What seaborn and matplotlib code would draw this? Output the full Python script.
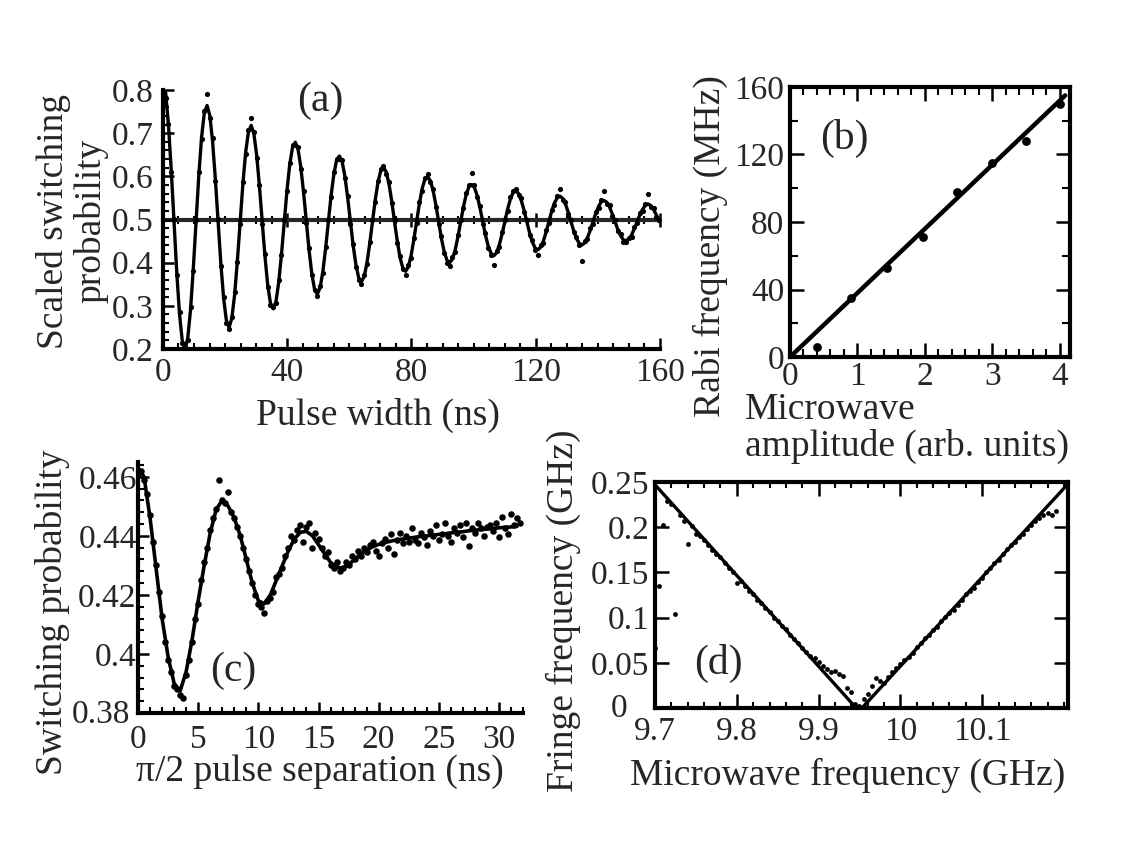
import numpy as np
import matplotlib
matplotlib.use("Agg")
import matplotlib.pyplot as plt
from matplotlib.ticker import MultipleLocator
from matplotlib.transforms import ScaledTranslation
import seaborn as sns

# (a) Rabi oscillations: switching probability vs pulse width
rabi_step = 0.8875  # ns between samples
rabi_fit = [
    .820, .792, .719, .615, .495, .378, .281, .219, .199, .225, .291, .386, .495, .602, .690, .747,
    .764, .741, .681, .594, .495, .398, .318, .266, .250, .272, .326, .405, .495, .583, .656, .703,
    .718, .698, .649, .577, .495, .415, .348, .306, .293, .310, .355, .420, .495, .568, .628, .667,
    .679, .663, .622, .563, .495, .429, .374, .338, .327, .342, .379, .433, .495, .556, .605, .638,
    .647, .634, .600, .551, .495, .440, .395, .365, .356, .368, .399, .444, .495, .545, .586, .613,
    .621, .610, .582, .542, .495, .450, .412, .388, .380, .390, .416, .453, .495, .536, .571, .593,
    .599, .590, .567, .534, .495, .457, .426, .406, .400, .408, .429, .460, .495, .529, .558, .576,
    .581, .574, .555, .527, .495, .464, .438, .422, .416, .423, .441, .466, .495, .523, .547, .562,
    .567, .560, .544, .521, .495, .469, .448, .434, .430, .436, .450, .471, .495, .519, .538, .550,
    .554, .549, .536, .517, .495, .474, .456, .445, .441, .446, .458, .475, .495, .514, .530, .541,
    .544, .540, .529, .513, .495, .477, .463, .453, .451, .454, .464, .479, .495, .511, .524, .533,
    .536, .532, .523, .510, .495,
]
rabi_data = [
    .790, .781, .722, .611, .502, .372, .286, .214, .205, .221, .297, .381, .500, .609, .686, .752,
    .790, .735, .688, .590, .501, .392, .321, .260, .247, .275, .331, .401, .490, .588, .651, .708,
    .735, .702, .643, .581, .490, .419, .344, .303, .298, .306, .360, .417, .498, .565, .632, .672,
    .672, .667, .618, .566, .491, .433, .371, .336, .322, .345, .375, .436, .499, .552, .609, .640,
    .641, .638, .596, .555, .490, .444, .391, .361, .350, .372, .396, .447, .500, .541, .590, .616,
    .624, .605, .586, .538, .499, .446, .416, .385, .372, .394, .411, .457, .491, .540, .567, .597,
    .605, .586, .571, .530, .490, .461, .422, .400, .392, .412, .425, .465, .499, .526, .562, .580,
    .607, .580, .551, .531, .489, .468, .434, .418, .395, .427, .437, .471, .499, .519, .551, .566,
    .571, .556, .549, .517, .500, .464, .452, .429, .418, .440, .446, .476, .491, .523, .534, .554,
    .570, .545, .540, .512, .499, .470, .460, .441, .405, .450, .454, .480, .490, .518, .526, .545,
    .567, .536, .533, .509, .500, .473, .467, .448, .447, .458, .460, .483, .491, .515, .520, .537,
    .558, .528, .527, .506, .499,
]
rabi_xticks = [0, 40, 80, 120, 160]
rabi_xticklabels = ['0', '40', '80', '120', '160']
rabi_yticks = [0.2, 0.3, 0.4, 0.5, 0.6, 0.7, 0.8]
rabi_yticklabels = ['0.2', '0.3', '0.4', '0.5', '0.6', '0.7', '0.8']

# (b) Rabi frequency vs microwave amplitude
amp = [0.40, 0.91, 1.44, 1.97, 2.47, 2.99, 3.50, 4.00]
rabi_freq = [6, 35, 53, 71, 98, 115, 128, 150]
amp_fit = [0.0, 4.08]
rabi_freq_fit = [0.0, 155.0]
amp_xticks = [0, 1, 2, 3, 4]
amp_xticklabels = ['0', '1', '2', '3', '4']
freq_yticks = [0, 40, 80, 120, 160]
freq_yticklabels = ['0', '40', '80', '120', '160']

# (c) Ramsey fringes
ramsey_step = 0.25
ramsey_data = [
    .461, .462, .459, .454, .447, .438, .430, .421,
    .413, .404, .398, .394, .389, .388, .386, .385,
    .393, .398, .404, .412, .417, .425, .431, .436,
    .442, .446, .449, .459, .452, .451, .455, .448,
    .446, .443, .440, .436, .432, .428, .424, .420,
    .417, .416, .414, .418, .419, .421, .426, .427,
    .429, .433, .436, .440, .4385, .442, .4435, .438,
    .443, .4445, .436, .441, .439, .436, .433, .4345,
    .430, .429, .431, .428, .429, .431, .430, .433,
    .432, .435, .433, .436, .4345, .437, .438, .435,
    .433, .4375, .439, .436, .4405, .434, .4385, .441,
    .4375, .440, .438, .4425, .4385, .4375, .441, .4395,
    .437, .4415, .440, .4435, .4385, .4405, .4445, .440,
    .438, .4425, .441, .4435, .4395, .4445, .4365, .4425,
    .441, .4445, .4425, .440, .443, .4435, .4415, .4445,
    .4395, .4465, .4425, .4405, .4475, .4435, .446, .4445,
]
ramsey_fit_step = 0.5
ramsey_fit = [
    .463, .460, .446, .429, .412, .399, .390, .3875,
    .394, .405, .418, .430, .441, .449, .452, .450,
    .446, .440, .432, .424, .418, .417, .420, .425,
    .430, .435, .439, .4412, .4415, .440, .437, .434,
    .431, .4295, .429, .4302, .432, .4338, .4352, .4363,
    .4371, .4377, .4382, .4386, .4389, .4392, .4395, .4398,
    .4400, .4402, .4405, .4407, .4410, .4412, .4414, .4417,
    .4419, .4421, .4423, .4425, .4427, .4429, .4430, .4432,
]
sep_xticks = [0, 5, 10, 15, 20, 25, 30]
sep_xticklabels = ['0', '5', '10', '15', '20', '25', '30']
sw_yticks = [0.38, 0.40, 0.42, 0.44, 0.46]
sw_yticklabels = ['0.38', '0.4', '0.42', '0.44', '0.46']

# (d) fringe frequency vs microwave frequency
left_fringe = [
    .066, .135, .203, .229, .226, .104, .214, .207, .181, .201,
    .193, .190, .186, .180, .175, .170, .167, .160, .155, .151,
    .138, .141, .135, .130, .126, .120, .116, .111, .106, .100,
    .096, .091, .087, .081, .076, .072, .066, .062, .058, .055,
    .051, .046, .043, .040, .041, .038, .035, .022, .018,
]
right_fringe = [
    .004, .002, .010, .015, .024, .033, .030, .028, .034, .040,
    .044, .049, .053, .056, .061, .067, .072, .077, .081, .086,
    .090, .096, .101, .105, .108, .114, .119, .126, .130, .133,
    .139, .144, .150, .155, .160, .164, .170, .176, .180, .184,
    .189, .193, .198, .203, .207, .210, .213, .216, .214, .218,
]
left_range = (9.700, 9.940)
right_range = (9.945, 10.190)
left_fit_x = [9.700, 9.946]
left_fit_y = [0.247, 0.0]
right_fit_x = [9.953, 10.205]
right_fit_y = [0.0, 0.248]
mw_xticks = [9.7, 9.8, 9.9, 10.0, 10.1]
mw_xticklabels = ['9.7', '9.8', '9.9', '10', '10.1']
fringe_yticks = [0, 0.05, 0.1, 0.15, 0.2, 0.25]
fringe_yticklabels = ['0', '0.05', '0.1', '0.15', '0.2', '0.25']

sns.set_theme(style="ticks")
plt.rcParams['font.family'] = ['Liberation Serif', 'DejaVu Serif']

TICK = 24
LABEL = 27
PANEL = 30


def style_axes(ax, box=False):
    for name, spine in ax.spines.items():
        spine.set_linewidth(3)
        spine.set_color('black')
        if name in ('top', 'right'):
            spine.set_visible(box)
    ax.tick_params(which='both', direction='in', color='black', labelsize=TICK,
                   top=box, right=box)
    ax.tick_params(which='major', length=8, width=1.8)
    ax.tick_params(which='minor', length=4, width=1.5)
    ax.set_facecolor('white')


def place_label(label, ha='center'):
    label.set_fontsize(LABEL)
    label.set_rotation_mode('default')
    label.set_va('center')
    label.set_ha(ha)
    label.set_multialignment(ha)


def nudge(label, dx, dy):
    # shift one tick label by (dx, dy) inches
    label.set_transform(label.get_transform() + ScaledTranslation(dx, dy, fig.dpi_scale_trans))


fig = plt.figure(figsize=(11.38, 8.42), dpi=100)
fig.patch.set_facecolor('white')

# ---------- (a) ----------
ax = fig.add_axes([0.1432, 0.5855, 0.4367, 0.3076])
t = np.arange(len(rabi_fit)) * rabi_step
td = np.arange(len(rabi_data)) * rabi_step
sns.lineplot(x=t, y=rabi_fit, ax=ax, color='black', lw=2.4, sort=False, estimator=None)
sns.scatterplot(x=td, y=rabi_data, ax=ax, color='black', s=14, linewidth=0, zorder=3)
ax.set_xlim(0, 160)
ax.set_ylim(0.2, 0.8)
style_axes(ax)
ax.set_xticks(rabi_xticks, rabi_xticklabels)
ax.set_yticks(rabi_yticks, rabi_yticklabels)
ax.xaxis.set_minor_locator(MultipleLocator(5))
ax.yaxis.set_minor_locator(MultipleLocator(0.02))
ax.tick_params(axis='y', pad=7)
ax.tick_params(axis='x', pad=6)
# the 0.5 reference line carries its own ticks
mid = ax.secondary_xaxis(0.5)
mid.spines['top'].set_linewidth(3)
mid.set_xticks(rabi_xticks)
mid.xaxis.set_minor_locator(MultipleLocator(5))
mid.tick_params(which='both', direction='inout', labeltop=False, labelbottom=False, color='black')
mid.tick_params(which='major', length=10, width=1.8)
mid.tick_params(which='minor', length=6, width=1.5)
ax.set_xlabel('Pulse width (ns)')
ax.xaxis.set_label_coords(0.433, -0.255)
place_label(ax.xaxis.label)
ax.set_ylabel('Scaled switching\nprobability', linespacing=1.1)
ax.yaxis.set_label_coords(-0.183, 0.494)
place_label(ax.yaxis.label)
ax.text(0.316, 0.958, '(a)', transform=ax.transAxes, fontsize=PANEL, ha='center', va='center')

# ---------- (b) ----------
ax = fig.add_axes([0.6942, 0.5760, 0.2460, 0.3207])
sns.lineplot(x=amp_fit, y=rabi_freq_fit, ax=ax, color='black', lw=3.2, sort=False, estimator=None)
sns.scatterplot(x=amp, y=rabi_freq, ax=ax, color='black', s=40, linewidth=0, zorder=3)
ax.set_xlim(0, 4.15)
ax.set_ylim(0, 160)
style_axes(ax, box=True)
ax.set_xticks(amp_xticks, amp_xticklabels)
ax.set_yticks(freq_yticks, freq_yticklabels)
ax.xaxis.set_minor_locator(MultipleLocator(0.2))
ax.yaxis.set_minor_locator(MultipleLocator(20))
ax.tick_params(which='major', length=10)
ax.tick_params(which='minor', length=6)
ax.tick_params(axis='y', pad=4)
ax.tick_params(axis='x', pad=3)
ax.set_xlabel('Microwave\namplitude (arb. units)', linespacing=1.05)
ax.xaxis.set_label_coords(-0.161, -0.263)
place_label(ax.xaxis.label, ha='left')
ax.set_ylabel('Rabi frequency (MHz)')
ax.yaxis.set_label_coords(-0.286, 0.41)
place_label(ax.yaxis.label)
ax.text(0.193, 0.811, '(b)', transform=ax.transAxes, fontsize=PANEL, ha='center', va='center')

# ---------- (c) ----------
ax = fig.add_axes([0.1213, 0.1532, 0.3383, 0.2981])
tf = np.arange(len(ramsey_fit)) * ramsey_fit_step
tr = np.arange(len(ramsey_data)) * ramsey_step
sns.lineplot(x=tf, y=ramsey_fit, ax=ax, color='black', lw=2.6, sort=False, estimator=None)
sns.scatterplot(x=tr, y=ramsey_data, ax=ax, color='black', s=22, linewidth=0, zorder=3)
ax.set_xlim(0, 32)
ax.set_ylim(0.38, 0.465)
style_axes(ax)
ax.set_xticks(sep_xticks, sep_xticklabels)
ax.set_yticks(sw_yticks, sw_yticklabels)
ax.xaxis.set_minor_locator(MultipleLocator(1))
ax.yaxis.set_minor_locator(MultipleLocator(0.004))
ax.tick_params(axis='y', pad=1)
ax.tick_params(axis='x', pad=8)
nudge(ax.get_yticklabels()[0], -0.07, 0.02)
ax.set_xlabel('π/2 pulse separation (ns)')
ax.xaxis.set_label_coords(0.473, -0.235)
place_label(ax.xaxis.label)
ax.set_ylabel('Switching probability')
ax.yaxis.set_label_coords(-0.223, 0.40)
place_label(ax.yaxis.label)
ax.text(0.247, 0.167, '(c)', transform=ax.transAxes, fontsize=PANEL, ha='center', va='center')

# ---------- (d) ----------
ax = fig.add_axes([0.5756, 0.1591, 0.3629, 0.2684])
fl = np.linspace(left_range[0], left_range[1], len(left_fringe))
fr = np.linspace(right_range[0], right_range[1], len(right_fringe))
sns.lineplot(x=left_fit_x, y=left_fit_y, ax=ax, color='black', lw=2.4, sort=False, estimator=None)
sns.lineplot(x=right_fit_x, y=right_fit_y, ax=ax, color='black', lw=2.4, sort=False, estimator=None)
sns.scatterplot(x=fl, y=left_fringe, ax=ax, color='black', s=12, linewidth=0, zorder=3)
sns.scatterplot(x=fr, y=right_fringe, ax=ax, color='black', s=12, linewidth=0, zorder=3)
ax.set_xlim(9.7, 10.205)
ax.set_ylim(0, 0.25)
style_axes(ax, box=True)
ax.set_xticks(mw_xticks, mw_xticklabels)
ax.set_yticks(fringe_yticks, fringe_yticklabels)
ax.xaxis.set_minor_locator(MultipleLocator(0.02))
ax.tick_params(which='major', length=10)
ax.tick_params(axis='y', pad=4)
ax.tick_params(axis='x', pad=6)
# the "0" sits further left so it clears the 9.7 label
nudge(ax.get_yticklabels()[0], -0.22, 0.03)
ax.set_xlabel('Microwave frequency (GHz)')
ax.xaxis.set_label_coords(0.467, -0.296)
place_label(ax.xaxis.label)
ax.set_ylabel('Fringe frequency (GHz)')
ax.yaxis.set_label_coords(-0.223, 0.43)
place_label(ax.yaxis.label)
ax.text(0.153, 0.195, '(d)', transform=ax.transAxes, fontsize=PANEL, ha='center', va='center')

fig.savefig('out.png', dpi=100, facecolor='white')
